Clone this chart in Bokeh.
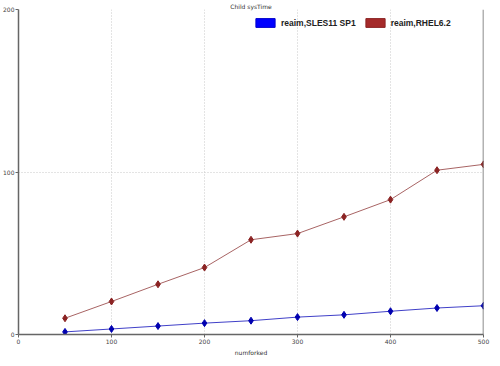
from bokeh.plotting import figure
from bokeh.models import ColumnDataSource, Legend, LegendItem, Span, Range1d, FixedTicker, Title
from bokeh.embed import file_html
from bokeh.resources import INLINE

numforked = [50, 100, 150, 200, 250, 300, 350, 400, 450, 500]
sles11 = [1.6, 3.4, 5.2, 7.0, 8.5, 10.7, 12.1, 14.3, 16.3, 17.7]
rhel62 = [10.0, 20.3, 30.9, 41.2, 58.3, 62.1, 72.4, 83.0, 101.1, 104.7]
series_names = ["reaim,SLES11 SP1", "reaim,RHEL6.2"]
x_ticks = [0, 100, 200, 300, 400, 500]
y_ticks = [0, 100, 200]

FH = 325
p = figure(frame_width=465, frame_height=FH, output_backend="svg", toolbar_location=None,
           x_range=Range1d(0, 500), y_range=Range1d(0, 200),
           title="Child sysTime", min_border_left=0, min_border_right=7,
           min_border_top=0, min_border_bottom=0)
p.background_fill_color = "white"
p.border_fill_color = "white"
p.outline_line_color = None

p.title.text_font = "DejaVu Sans"
p.title.text_font_size = "6px"
p.title.text_font_style = "normal"
p.title.text_color = "#333333"
p.title.align = "center"
p.title.standoff = 0

for ax in (p.xaxis[0], p.yaxis[0]):
    ax.axis_line_color = "#666666"
    ax.axis_line_width = 1.5
    ax.major_tick_line_color = "#666666"
    ax.minor_tick_line_color = None
    ax.major_tick_in = 0
    ax.major_tick_out = 3
    ax.major_label_text_font = "DejaVu Sans"
    ax.major_label_text_font_size = "6px"
    ax.major_label_text_color = "#444444"
    ax.major_label_standoff = 1

p.xaxis[0].ticker = FixedTicker(ticks=x_ticks)
p.yaxis[0].ticker = FixedTicker(ticks=y_ticks)

p.add_layout(Title(text="numforked", align="center", text_font="DejaVu Sans",
                   text_font_size="6px", text_font_style="normal",
                   text_color="#333333", standoff=0), "below")

p.xgrid.ticker = FixedTicker(ticks=[100, 200, 300, 400])
p.ygrid.ticker = FixedTicker(ticks=[100, 200])
for g in (p.xgrid[0], p.ygrid[0]):
    g.grid_line_color = "#c8c8c8"
    g.grid_line_dash = "1 2"
    g.grid_line_width = 1

p.add_layout(Span(location=500, dimension="height", line_color="#666666", line_width=1.5))

src = ColumnDataSource(dict(x=numforked, s=sles11, r=rhel62))
p.line("x", "r", source=src, line_color="#a86464", line_width=1)
p.scatter("x", "r", source=src, marker="diamond", size=7, fill_color="#8b2323", line_color="#8b2323")
p.line("x", "s", source=src, line_color="#4040c8", line_width=1)
p.scatter("x", "s", source=src, marker="diamond", size=7, fill_color="#0000b0", line_color="#0000b0")

dummy = ColumnDataSource(dict(left=[float("nan")], right=[float("nan")],
                              top=[float("nan")], bottom=[float("nan")]))
q1 = p.quad(left="left", right="right", top="top", bottom="bottom", source=dummy,
            fill_color="#0000ff", line_color="#0000cc")
q2 = p.quad(left="left", right="right", top="top", bottom="bottom", source=dummy,
            fill_color="#a52a2a", line_color="#8b2323")

legend = Legend(items=[LegendItem(label=series_names[0], renderers=[q1]),
                       LegendItem(label=series_names[1], renderers=[q2])],
                orientation="horizontal", location=(235, FH - 19),
                glyph_width=24, glyph_height=11,
                label_text_font="Liberation Sans", label_text_font_size="8.5px",
                label_text_font_style="bold", label_text_color="#222222",
                label_standoff=4, spacing=7, padding=0, margin=0,
                border_line_color=None, background_fill_alpha=0)
p.add_layout(legend)

open("out.html", "w").write(file_html(p, INLINE))
